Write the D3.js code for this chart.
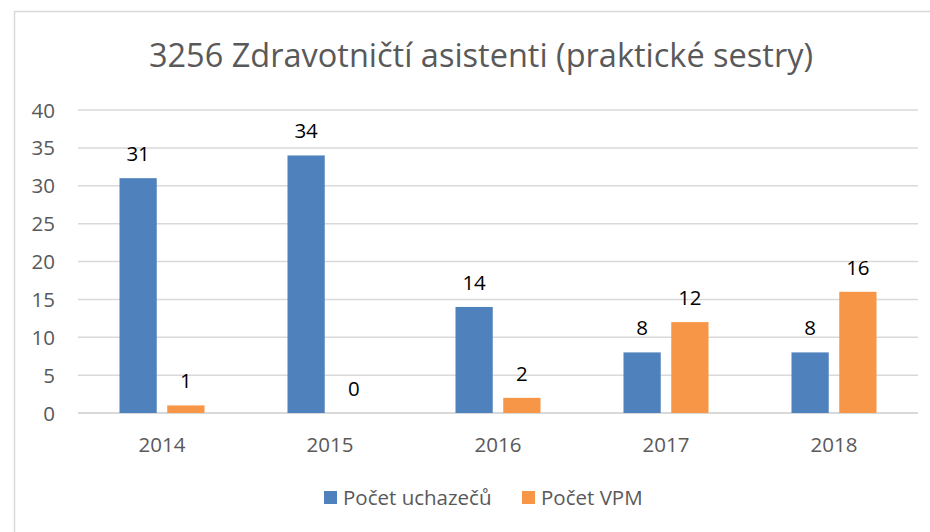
<!DOCTYPE html>
<html>
<head>
<meta charset="utf-8">
<script src="https://cdn.jsdelivr.net/npm/d3@7"></script>
<style>
  body { margin: 0; background: #fff; }
  text { font-family: "Open Sans", sans-serif; }
</style>
</head>
<body>
<script>
const roky = ["2014", "2015", "2016", "2017", "2018"];
const uchazeci = [31, 34, 14, 8, 8];
const vpm = [1, 0, 2, 12, 16];
const serie = ["Počet uchazečů", "Počet VPM"];
const barvy = ["#4f81bd", "#f79646"];
const ticky = [0, 5, 10, 15, 20, 25, 30, 35, 40];

const sirka = 930, vyska = 532;
const pismo = 20.5;
const svg = d3.select("body").append("svg")
  .attr("width", sirka)
  .attr("height", vyska);

// ramecek grafu
svg.append("rect")
  .attr("x", 14.5).attr("y", 11.5)
  .attr("width", 940).attr("height", 540)
  .attr("fill", "#fff")
  .attr("stroke", "#d9d9d9")
  .attr("stroke-width", 1.5);

svg.append("text")
  .attr("x", 481).attr("y", 67)
  .attr("text-anchor", "middle")
  .attr("font-size", 32.5)
  .attr("fill", "#595959")
  .text("3256 Zdravotničtí asistenti (praktické sestry)");

const x0 = d3.scaleBand().domain(roky).range([78, 918]).paddingInner(0.494).paddingOuter(0.247);
const x1 = d3.scaleBand().domain([0, 1]).range([0, x0.bandwidth()]).paddingInner(0.22);
const y = d3.scaleLinear().domain([0, 40]).range([413, 110]);

// mrizka
svg.append("g").selectAll("line")
  .data(ticky)
  .join("line")
  .attr("x1", 78).attr("x2", 918)
  .attr("y1", d => y(d)).attr("y2", d => y(d))
  .attr("stroke", "#d9d9d9")
  .attr("stroke-width", d => d === 0 ? 2 : 1.5);

svg.append("g").selectAll("text")
  .data(ticky)
  .join("text")
  .attr("x", 55).attr("y", d => y(d) + 7.5)
  .attr("text-anchor", "end")
  .attr("font-size", pismo)
  .attr("fill", "#595959")
  .text(d => d);

svg.append("g").selectAll("text")
  .data(roky)
  .join("text")
  .attr("x", d => x0(d) + x0.bandwidth() / 2)
  .attr("y", 452)
  .attr("text-anchor", "middle")
  .attr("font-size", pismo)
  .attr("fill", "#595959")
  .text(d => d);

const data = roky.map((r, i) => ({ rok: r, hodnoty: [uchazeci[i], vpm[i]] }));

const skupiny = svg.append("g").selectAll("g")
  .data(data)
  .join("g")
  .attr("transform", d => `translate(${x0(d.rok)},0)`);

skupiny.selectAll("rect")
  .data(d => d.hodnoty.map((v, s) => ({ v, s })))
  .join("rect")
  .attr("x", d => x1(d.s))
  .attr("width", x1.bandwidth())
  .attr("y", d => y(d.v))
  .attr("height", d => y(0) - y(d.v))
  .attr("fill", d => barvy[d.s]);

skupiny.selectAll("text")
  .data(d => d.hodnoty.map((v, s) => ({ v, s })))
  .join("text")
  .attr("x", d => x1(d.s) + x1.bandwidth() / 2)
  .attr("y", d => y(d.v) - 17)
  .attr("text-anchor", "middle")
  .attr("font-size", pismo)
  .attr("fill", "#000")
  .text(d => d.v);

// legenda
const legX = [324, 522];
const leg = svg.append("g").selectAll("g")
  .data(serie)
  .join("g")
  .attr("transform", (d, i) => `translate(${legX[i]},491)`);

leg.append("rect")
  .attr("width", 13).attr("height", 13)
  .attr("fill", (d, i) => barvy[i]);

leg.append("text")
  .attr("x", 19).attr("y", 14)
  .attr("font-size", pismo)
  .attr("fill", "#595959")
  .text(d => d);
</script>
</body>
</html>
